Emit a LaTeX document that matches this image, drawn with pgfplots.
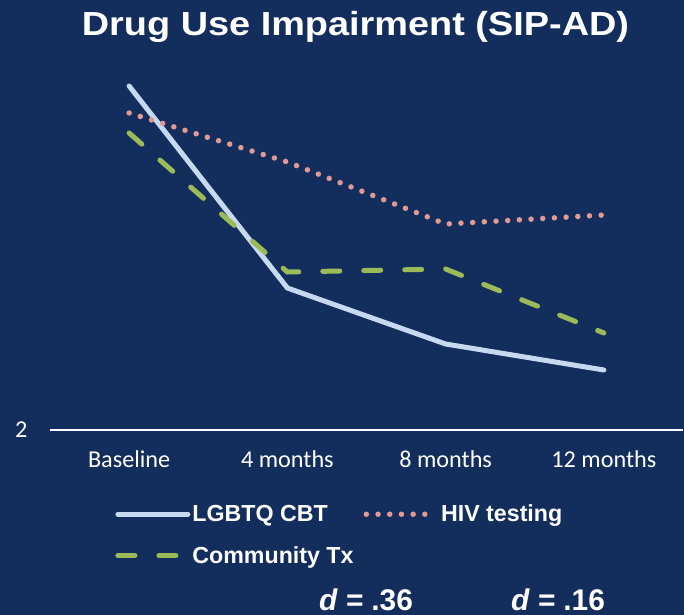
\documentclass[border=0pt]{standalone}
\usepackage{pgfplots}
\pgfplotsset{compat=1.18}
\usepackage{fontspec}
\setmainfont{Liberation Sans}
\newfontfamily\carlito{Carlito}
\definecolor{bg}{HTML}{132E5C}
\definecolor{cbt}{HTML}{C6D9F1}
\definecolor{hiv}{HTML}{E09A95}
\definecolor{comm}{HTML}{9BBB59}
\begin{document}
\begin{tikzpicture}
\fill[bg] (0,0) rectangle (684bp,615bp);
\useasboundingbox (0,0) rectangle (684bp,615bp);
\node[anchor=base, text=white, inner sep=0pt, font=\bfseries\fontsize{33.5}{40}\selectfont] at (355.5bp,579bp) {\scalebox{1.135}[1]{Drug Use Impairment (SIP-AD)}};
\begin{axis}[
  at={(50bp,185bp)}, anchor=south west,
  scale only axis, width=633bp, height=370bp,
  xmin=-0.5, xmax=3.5, ymin=2, ymax=3.85, clip=false,
  axis x line*=bottom, axis y line*=left,
  x axis line style={-, white, line width=2bp},
  y axis line style={draw=none},
  xtick={0,1,2,3}, xticklabels={Baseline,4 months,8 months,12 months},
  ytick={2}, major tick length=0pt,
  ticklabel style={text=white, font=\carlito\fontsize{24.3}{29}\selectfont},
  /pgf/number format/assume math mode=true,
  xticklabel style={yshift=-17bp},
  yticklabel style={xshift=-19bp},
  legend style={at={(0.103,-0.197)}, anchor=north west, draw=none, fill=none,
    text=white, font=\bfseries\fontsize{23.3}{28}\selectfont, inner sep=0pt,
    row sep=19bp, /tikz/every even column/.append style={column sep=8bp}},
  legend columns=2, legend cell align=left,
  legend image code/.code={\draw[#1] (0bp,0bp) -- (70bp,0bp);},
]
\addplot[cbt, line width=5bp, line join=round, line cap=round] coordinates {(0,3.72) (1,2.71) (2,2.43) (3,2.30)};
\addlegendentry{LGBTQ CBT}
\addplot[hiv, line width=5.5bp, line cap=round, dash pattern=on 0bp off 11.7bp] coordinates {(0,3.585) (1,3.34) (2,3.03) (3,3.075)};
\addlegendentry{HIV testing}
\addplot[comm, line width=5bp, line cap=round, dash pattern=on 17bp off 24bp] coordinates {(0,3.485) (1,2.79) (2,2.805) (3,2.485)};
\addlegendentry{Community Tx}
\end{axis}
\node[anchor=base, text=white, inner sep=0pt, font=\bfseries\fontsize{30}{36}\selectfont] at (366bp,5bp) {\textit{d =} .36};
\node[anchor=base, text=white, inner sep=0pt, font=\bfseries\fontsize{30}{36}\selectfont] at (558bp,5bp) {\textit{d =} .16};
\end{tikzpicture}
\end{document}
